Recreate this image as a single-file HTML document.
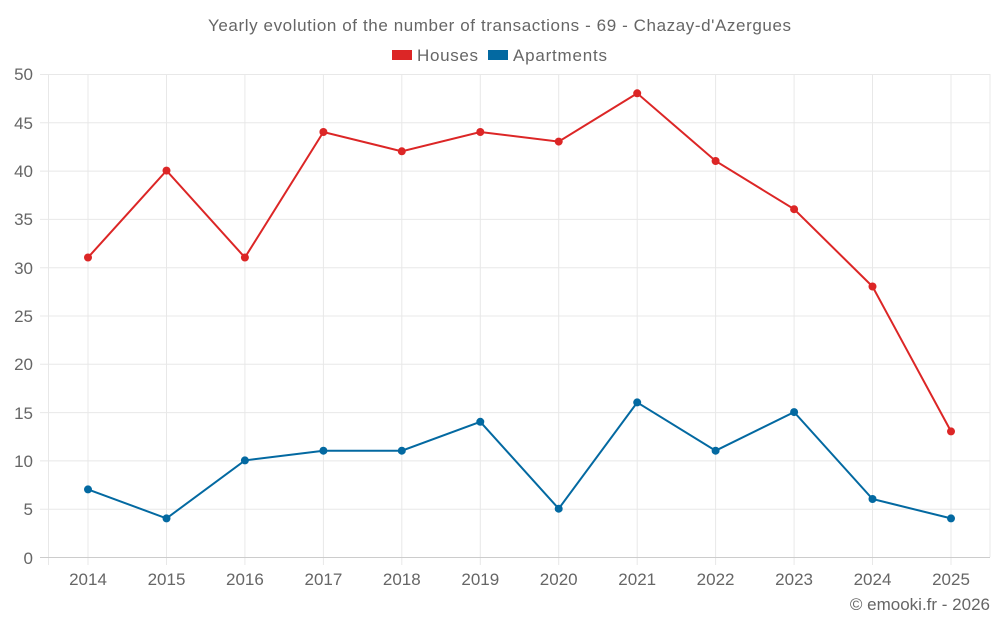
<!DOCTYPE html><html><head><style>body{margin:0;background:#fff}svg{font-family:"Liberation Sans",sans-serif}</style></head><body>
<svg width="1000" height="625" xmlns="http://www.w3.org/2000/svg">
<rect width="1000" height="625" fill="#fff"/>
<text x="208" y="31" textLength="583" font-size="17" fill="#666">Yearly evolution of the number of transactions - 69 - Chazay-d'Azergues</text>
<rect x="392" y="50" width="20" height="10" fill="#dc2626"/><text x="417" y="61" textLength="61" font-size="17" fill="#666">Houses</text>
<rect x="488" y="50" width="20" height="10" fill="#0369a1"/><text x="513" y="61" textLength="94" font-size="17" fill="#666">Apartments</text>
<g stroke="#e8e8e8" stroke-width="1">
<line x1="40" x2="990" y1="74.5" y2="74.5"/><line x1="40" x2="990" y1="122.8" y2="122.8"/><line x1="40" x2="990" y1="171.1" y2="171.1"/><line x1="40" x2="990" y1="219.4" y2="219.4"/><line x1="40" x2="990" y1="267.7" y2="267.7"/><line x1="40" x2="990" y1="316" y2="316"/><line x1="40" x2="990" y1="364.3" y2="364.3"/><line x1="40" x2="990" y1="412.6" y2="412.6"/><line x1="40" x2="990" y1="460.9" y2="460.9"/><line x1="40" x2="990" y1="509.2" y2="509.2"/>
<line x1="48.5" x2="48.5" y1="74" y2="565"/>
<line x1="88" x2="88" y1="74" y2="565"/><line x1="166.5" x2="166.5" y1="74" y2="565"/><line x1="244.9" x2="244.9" y1="74" y2="565"/><line x1="323.4" x2="323.4" y1="74" y2="565"/><line x1="401.8" x2="401.8" y1="74" y2="565"/><line x1="480.3" x2="480.3" y1="74" y2="565"/><line x1="558.7" x2="558.7" y1="74" y2="565"/><line x1="637.2" x2="637.2" y1="74" y2="565"/><line x1="715.6" x2="715.6" y1="74" y2="565"/><line x1="794.1" x2="794.1" y1="74" y2="565"/><line x1="872.5" x2="872.5" y1="74" y2="565"/><line x1="951" x2="951" y1="74" y2="565"/><line x1="990" x2="990" y1="74" y2="557"/>
</g>
<line x1="40" x2="990" y1="557.5" y2="557.5" stroke="#ccc"/>
<g font-size="17" fill="#666" text-anchor="end">
<text x="33" y="80">50</text><text x="33" y="129">45</text><text x="33" y="177">40</text><text x="33" y="225">35</text><text x="33" y="274">30</text><text x="33" y="322">25</text><text x="33" y="370">20</text><text x="33" y="419">15</text><text x="33" y="467">10</text><text x="33" y="515">5</text><text x="33" y="564">0</text>
</g>
<g font-size="17" fill="#666" text-anchor="middle">
<text x="88" y="585">2014</text><text x="166.5" y="585">2015</text><text x="244.9" y="585">2016</text><text x="323.4" y="585">2017</text><text x="401.8" y="585">2018</text><text x="480.3" y="585">2019</text><text x="558.7" y="585">2020</text><text x="637.2" y="585">2021</text><text x="715.6" y="585">2022</text><text x="794.1" y="585">2023</text><text x="872.5" y="585">2024</text><text x="951" y="585">2025</text>
</g>
<text x="990" y="610" text-anchor="end" font-size="17" fill="#666">© emooki.fr - 2026</text>
<g fill="#dc2626"><polyline fill="none" stroke="#dc2626" stroke-width="2" points="88,257.5 166.5,170.6 244.9,257.5 323.4,132 401.8,151.3 480.3,132 558.7,141.6 637.2,93.3 715.6,161 794.1,209.2 872.5,286.5 951,431.4"/>
<circle cx="88" cy="257.5" r="4"/><circle cx="166.5" cy="170.6" r="4"/><circle cx="244.9" cy="257.5" r="4"/><circle cx="323.4" cy="132" r="4"/><circle cx="401.8" cy="151.3" r="4"/><circle cx="480.3" cy="132" r="4"/><circle cx="558.7" cy="141.6" r="4"/><circle cx="637.2" cy="93.3" r="4"/><circle cx="715.6" cy="161" r="4"/><circle cx="794.1" cy="209.2" r="4"/><circle cx="872.5" cy="286.5" r="4"/><circle cx="951" cy="431.4" r="4"/></g>
<g fill="#0369a1"><polyline fill="none" stroke="#0369a1" stroke-width="2" points="88,489.4 166.5,518.4 244.9,460.4 323.4,450.7 401.8,450.7 480.3,421.8 558.7,508.7 637.2,402.4 715.6,450.7 794.1,412.1 872.5,499 951,518.4"/>
<circle cx="88" cy="489.4" r="4"/><circle cx="166.5" cy="518.4" r="4"/><circle cx="244.9" cy="460.4" r="4"/><circle cx="323.4" cy="450.7" r="4"/><circle cx="401.8" cy="450.7" r="4"/><circle cx="480.3" cy="421.8" r="4"/><circle cx="558.7" cy="508.7" r="4"/><circle cx="637.2" cy="402.4" r="4"/><circle cx="715.6" cy="450.7" r="4"/><circle cx="794.1" cy="412.1" r="4"/><circle cx="872.5" cy="499" r="4"/><circle cx="951" cy="518.4" r="4"/></g>
</svg></body></html>
